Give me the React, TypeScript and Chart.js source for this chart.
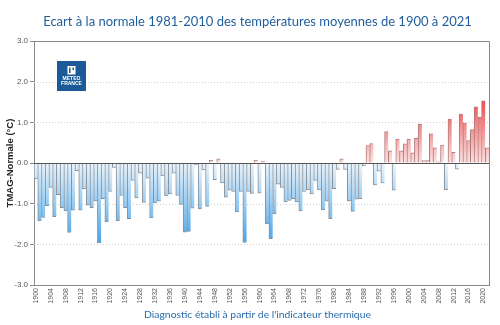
import React, { useEffect, useRef } from 'react';
import { Chart, registerables } from 'chart.js';

Chart.register(...registerables);

const firstYear = 1900;
const lastYear = 2021;
const years: string[] = [];
for (let y = firstYear; y <= lastYear; y++) years.push(String(y));

// Temperature anomaly (°C) vs 1981-2010 normal
const anomalies1900s = [-0.39, -1.42, -1.34, -1.05, -0.60, -1.32, -0.78, -1.10, -1.18, -1.71];
const anomalies1910s = [-1.16, -0.19, -1.16, -0.64, -1.04, -1.10, -0.93, -1.96, -0.88, -1.44];
const anomalies1920s = [-0.70, -0.11, -1.42, -0.80, -1.10, -1.37, -0.43, -0.86, -0.25, -0.97];
const anomalies1930s = [-0.37, -1.35, -0.98, -0.94, -0.32, -0.81, -0.76, -0.25, -0.80, -1.02];
const anomalies1940s = [-1.70, -1.68, -1.11, -0.05, -1.13, -0.17, -1.07, 0.07, -0.41, 0.10];
const anomalies1950s = [-0.49, -0.84, -0.67, -0.70, -1.20, -0.70, -1.95, -0.70, -0.75, 0.07];
const anomalies1960s = [-0.74, 0.05, -1.50, -1.86, -1.25, -0.52, -0.60, -0.96, -0.92, -0.88];
const anomalies1970s = [-0.96, -1.18, -0.70, -0.66, -0.76, -0.43, -0.66, -1.15, -0.94, -1.37];
const anomalies1980s = [-0.63, -0.16, 0.10, -0.16, -0.93, -1.19, -0.89, -0.88, -0.07, 0.43];
const anomalies1990s = [0.48, -0.54, -0.20, -0.49, 0.77, 0.30, -0.67, 0.59, 0.30, 0.47];
const anomalies2000s = [0.59, 0.25, 0.61, 0.96, 0.06, 0.06, 0.72, 0.37, 0.03, 0.44];
const anomalies2010s = [-0.66, 1.08, 0.26, -0.15, 1.20, 0.98, 0.55, 0.82, 1.38, 1.13];
const anomalies2020s = [1.53, 0.37];

const anomalies: number[] = [
  ...anomalies1900s, ...anomalies1910s, ...anomalies1920s, ...anomalies1930s,
  ...anomalies1940s, ...anomalies1950s, ...anomalies1960s, ...anomalies1970s,
  ...anomalies1980s, ...anomalies1990s, ...anomalies2000s, ...anomalies2010s,
  ...anomalies2020s,
];

const yTicks = [-3, -2, -1, 0, 1, 2, 3];
const labelEvery = 4;

const titleText = 'Ecart à la normale 1981-2010 des températures moyennes de 1900 à 2021';
const footerText = "Diagnostic établi à partir de l'indicateur thermique";
const yTitleText = 'TMAG-Normale (°C)';

const W = 500;
const H = 325;

function fitFont(ctx: CanvasRenderingContext2D, text: string, family: string, weight: string, width: number) {
  ctx.font = `${weight} 20px ${family}`;
  const w = ctx.measureText(text).width;
  return (20 * width) / w;
}

const decor = {
  id: 'decor',
  beforeDatasetsDraw(chart: any) {
    const { ctx, chartArea: a, scales } = chart;
    const y = scales.y;
    ctx.save();
    ctx.strokeStyle = '#cfcfcf';
    ctx.lineWidth = 1;
    ctx.setLineDash([1, 2]);
    for (const v of yTicks) {
      if (v === 0 || v === 3 || v === -3) continue;
      const py = Math.round(y.getPixelForValue(v)) + 0.5;
      ctx.beginPath();
      ctx.moveTo(a.left, py);
      ctx.lineTo(a.right, py);
      ctx.stroke();
    }
    ctx.setLineDash([]);
    ctx.strokeStyle = '#8a8a8a';
    ctx.beginPath();
    ctx.moveTo(a.left, Math.round(a.top) + 0.5);
    ctx.lineTo(Math.round(a.right) + 0.5, Math.round(a.top) + 0.5);
    ctx.lineTo(Math.round(a.right) + 0.5, a.bottom);
    ctx.stroke();
    ctx.restore();
  },
  afterDatasetsDraw(chart: any) {
    const { ctx, chartArea: a, scales } = chart;
    const y = scales.y;
    ctx.save();
    // zero line
    const py0 = Math.round(y.getPixelForValue(0)) + 0.5;
    ctx.strokeStyle = '#555555';
    ctx.lineWidth = 1;
    ctx.beginPath();
    ctx.moveTo(a.left, py0);
    ctx.lineTo(a.right, py0);
    ctx.stroke();

    // logo
    ctx.fillStyle = '#1b5a99';
    ctx.fillRect(57, 61, 29, 30);
    ctx.fillStyle = '#ffffff';
    ctx.fillRect(67.5, 66, 8, 8.5);
    ctx.fillStyle = '#1b5a99';
    ctx.fillRect(69, 67.5, 1.5, 5.5);
    ctx.fillRect(72.5, 67.5, 1.5, 2.5);
    ctx.fillStyle = '#ffffff';
    ctx.font = 'bold 5px "Liberation Sans"';
    ctx.textAlign = 'center';
    ctx.textBaseline = 'middle';
    ctx.fillText('METEO', 71.5, 78.5);
    ctx.fillText('FRANCE', 71.5, 83.5);

    // title
    const tSize = fitFont(ctx, titleText, 'Lato', 'normal', 429);
    ctx.font = `${tSize}px Lato`;
    ctx.fillStyle = '#1f5e9c';
    ctx.textAlign = 'center';
    ctx.textBaseline = 'alphabetic';
    ctx.fillText(titleText, 257.5, 26);

    // footer
    const fSize = fitFont(ctx, footerText, 'Lato', 'normal', 227);
    ctx.font = `${fSize}px Lato`;
    ctx.fillStyle = '#2b6cae';
    ctx.fillText(footerText, 257.5, 318);

    // y title
    ctx.translate(10, y.getPixelForValue(0));
    ctx.rotate(-Math.PI / 2);
    ctx.font = 'bold 9.5px "Liberation Sans"';
    ctx.fillStyle = '#222222';
    ctx.textBaseline = 'middle';
    ctx.fillText(yTitleText, 0, 0);
    ctx.restore();
  },
};

export default function App() {
  const ref = useRef<HTMLCanvasElement>(null);
  useEffect(() => {
    document.body.style.margin = '0';
    const canvas = ref.current!;
    const chart = new Chart(canvas, {
      type: 'bar',
      data: {
        labels: years,
        datasets: [
          {
            data: anomalies,
            categoryPercentage: 1,
            barPercentage: 1,
            borderWidth: { top: 1, right: 0, bottom: 1, left: 1 },
            borderColor: (c: any) => ((c.raw as number) >= 0 ? '#b07a7a' : '#8a8f96'),
            backgroundColor: (c: any) => {
              const chart = c.chart;
              const sy = chart.scales?.y;
              if (!chart.chartArea || !sy) return '#9ccdf2';
              const v = c.raw as number;
              const y0 = sy.getPixelForValue(0);
              if (v >= 0) {
                const g = chart.ctx.createLinearGradient(0, y0, 0, sy.getPixelForValue(1.6));
                g.addColorStop(0, '#fbe2e2');
                g.addColorStop(1, '#ee4747');
                return g;
              }
              const g = chart.ctx.createLinearGradient(0, y0, 0, sy.getPixelForValue(-2));
              g.addColorStop(0, '#eaf4fc');
              g.addColorStop(1, '#44a3ea');
              return g;
            },
          } as any,
        ],
      },
      options: {
        responsive: false,
        animation: false,
        events: [],
        layout: { padding: { top: 41, right: 11, left: 0, bottom: 0 } },
        plugins: {
          legend: { display: false },
          title: { display: false },
          tooltip: { enabled: false },
        },
        scales: {
          x: {
            grid: { display: false, drawTicks: false },
            border: { display: true, color: '#8a8a8a' },
            ticks: {
              autoSkip: false,
              maxRotation: 90,
              minRotation: 90,
              padding: 3,
              color: '#555555',
              font: { size: 7, family: '"Liberation Sans"' },
              callback: (_v: any, i: number) => (i % labelEvery === 0 ? years[i] : ''),
            },
            afterFit: (s: any) => {
              s.height = 40;
            },
          },
          y: {
            min: -3,
            max: 3,
            afterBuildTicks: (s: any) => {
              s.ticks = yTicks.map((v) => ({ value: v }));
            },
            grid: { drawOnChartArea: false, drawTicks: true, tickLength: 4, tickColor: '#8a8a8a' },
            border: { display: true, color: '#8a8a8a' },
            ticks: {
              padding: 2,
              color: '#555555',
              font: { size: 8, family: '"Liberation Sans"' },
              callback: (v: any) => Number(v).toFixed(1),
            },
            afterFit: (s: any) => {
              s.width = 34;
            },
          },
        },
      },
      plugins: [decor],
    });
    return () => chart.destroy();
  }, []);
  return (
    <div style={{ width: W, height: H, background: '#ffffff' }}>
      <canvas ref={ref} width={W} height={H} style={{ display: 'block' }} />
    </div>
  );
}
